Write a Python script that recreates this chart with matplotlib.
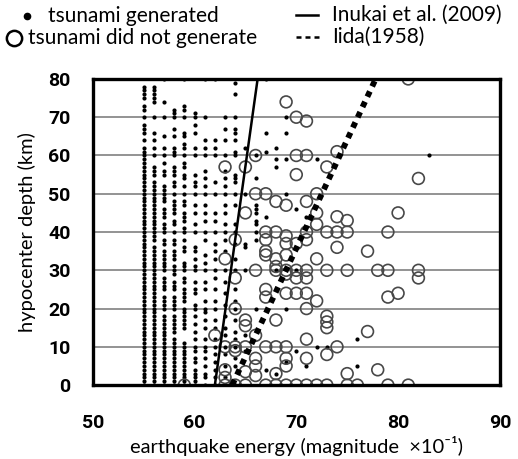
import numpy as np
import matplotlib
matplotlib.use('Agg')
import matplotlib.pyplot as plt
from matplotlib.lines import Line2D

# tsunami generated: depth (km) per magnitude column (magnitude x10)
gen_columns = {
    55: [0, 1, 2, 3, 4, 5, 6, 7, 8, 9, 10, 11, 12, 13, 14, 15, 16, 17, 18, 19, 20, 21, 22, 23, 24, 25,
         26, 27, 28, 29, 30, 31, 32, 33, 34, 35, 36, 37, 38, 39, 40, 41, 42, 43, 44, 45, 46, 47, 48, 49,
         50, 51, 52, 53, 54, 55, 56, 57, 58, 59, 60, 61, 62, 64, 66, 67, 68, 70, 72, 73, 75, 76, 77, 78],
    56: [0, 1, 2, 3, 4, 5, 6, 7, 8, 9, 10, 11, 12, 13, 14, 15, 16, 17, 18, 19, 20, 21, 22, 23, 24, 25,
         26, 27, 28, 29, 30, 31, 32, 33, 34, 35, 36, 38, 39, 40, 41, 42, 43, 44, 45, 46, 47, 48, 49, 50,
         51, 52, 53, 55, 56, 57, 60, 62, 64, 66, 70, 74, 75, 76, 77, 78],
    57: [0, 1, 2, 3, 4, 5, 6, 7, 8, 9, 10, 11, 12, 13, 14, 15, 16, 17, 18, 20, 21, 22, 23, 25, 26, 27,
         28, 30, 31, 32, 33, 34, 35, 37, 38, 40, 41, 42, 44, 45, 46, 48, 49, 50, 51, 52, 55, 56, 58, 60,
         62, 65, 70, 74, 80],
    58: [0, 1, 2, 3, 4, 5, 6, 7, 8, 9, 10, 11, 12, 14, 15, 16, 17, 18, 20, 21, 22, 23, 25, 26, 27, 29,
         30, 31, 33, 34, 35, 37, 38, 40, 42, 43, 45, 46, 47, 48, 50, 52, 53, 55, 56, 57, 60, 61, 62, 65,
         67, 70, 71, 72],
    59: [0, 1, 2, 3, 4, 5, 6, 7, 8, 9, 10, 11, 15, 16, 17, 18, 19, 20, 22, 23, 24, 25, 27, 28, 30, 31,
         32, 35, 36, 38, 40, 41, 43, 44, 45, 47, 48, 50, 52, 54, 55, 57, 58, 60, 62, 63, 65, 66, 70, 72,
         73, 80],
    60: [0, 1, 2, 3, 4, 6, 7, 9, 10, 12, 14, 16, 18, 20, 21, 24, 25, 27, 30, 31, 33, 35, 36, 40, 42, 45,
         47, 50, 52, 53, 55, 60, 62, 66, 68, 70, 71],
    61: [0, 2, 3, 5, 7, 9, 10, 12, 15, 17, 19, 20, 22, 25, 27, 30, 32, 34, 38, 40, 43, 45, 47, 50, 52,
         54, 56, 60, 62, 64, 70, 80],
    62: [0, 2, 4, 6, 8, 10, 12, 15, 17, 20, 22, 25, 28, 30, 33, 35, 37, 40, 43, 45, 50, 53, 60, 62, 64, 80],
    63: [0, 2, 5, 8, 10, 13, 15, 18, 21, 24, 27, 30, 35, 38, 40, 42, 45, 47, 50, 52, 54, 56, 60, 64, 67, 70],
    64: [0, 5, 7, 10, 12, 14, 17, 20, 22, 25, 30, 33, 37, 40, 42, 47, 50, 53, 54, 55, 60, 61, 64, 66, 67,
         70, 76, 79],
}

# scattered generated events right of the Inukai line
gen_mag = [65, 65, 65, 65, 65, 65, 65, 66, 66, 66, 66, 66, 66, 66, 66, 66, 66, 67, 67, 67, 67, 67,
           68, 68, 68, 68, 68, 69, 69, 69, 69, 69, 69, 70, 70, 70, 71, 71, 72, 72, 73, 76, 76, 83]
gen_depth = [62, 37, 36, 13, 9, 50, 30, 54, 47, 46, 45, 43, 42, 40, 38, 20, 60, 80, 66, 61, 44, 4,
             62, 59, 57, 3, 30, 70, 66, 59, 50, 20, 6, 46, 9, 30, 44, 5, 59, 10, 10, 12, 5, 60]

# tsunami did not generate
nogen_mag = [59, 62, 63, 63, 63, 63, 63, 63,
             64, 64, 64, 64, 64, 64,
             65, 65, 65, 65, 65, 65, 65,
             66, 66, 66, 66, 66, 66, 66,
             67, 67, 67, 67, 67, 67, 67, 67, 67,
             68, 68, 68, 68, 68, 68, 68, 68, 68,
             69, 69, 69, 69, 69, 69, 69, 69, 69, 69, 69, 69,
             70, 70, 70, 70, 70, 70, 70, 70,
             71, 71, 71, 71, 71, 71, 71, 71, 71, 71, 71, 71,
             72, 72, 72, 72, 72, 72,
             73, 73, 73, 73, 73, 73, 73, 73,
             74, 74, 74, 74, 74,
             75, 75, 75, 75, 75,
             76, 77, 77, 78, 78, 79, 79, 79, 79, 80, 80, 81, 81, 82, 82, 82]
nogen_depth = [0, 13, 57, 33, 10, 4, 2, 0,
               38, 28, 20, 10, 9, 0,
               57, 45, 17, 15.5, 10, 3.5, 0,
               60, 50, 30, 13, 7, 5, 2.5,
               50, 40, 38, 35, 34, 25, 23, 10, 0,
               48, 40, 33, 31, 30, 17, 10, 3, 0,
               74, 47, 39, 37, 34, 30, 29, 24, 10, 7, 5, 0,
               70, 60, 55, 37, 30, 28, 24, 0,
               69, 60, 48, 40, 38, 30, 28, 24, 20, 12, 7, 0,
               50, 45, 42, 33, 22, 0,
               57, 40, 30, 18, 16.5, 15, 8, 0,
               61, 44, 40, 36, 10,
               43, 40, 30, 3, 0,
               0, 35, 14, 30, 4, 40, 30, 23, 0, 45, 24, 80, 0, 54, 30, 28]

# boundary lines (magnitude x10 at depth 0 and 80 km)
inukai_mag = [62.0, 66.2]
iida_mag = [63.7, 77.8]
line_depth = [0, 80]

x_ticks = [50, 60, 70, 80, 90]
y_ticks = [0, 10, 20, 30, 40, 50, 60, 70, 80]

label_fam = ['Lato', 'DejaVu Sans']
tick_fam = ['Roboto', 'Liberation Sans', 'DejaVu Sans']

fig = plt.figure(figsize=(5.18, 4.59), dpi=100)
ax = fig.add_axes([0.179, 0.161, 0.786, 0.667])

for mag, depths in gen_columns.items():
    ax.scatter([mag] * len(depths), depths, s=9, color='black', linewidths=0, zorder=3)
ax.scatter(gen_mag, gen_depth, s=9, color='black', linewidths=0, zorder=3)
ax.scatter(nogen_mag, nogen_depth, s=72, facecolors='none', edgecolors='#484848',
           linewidths=1.2, zorder=4)

ax.plot(inukai_mag, line_depth, color='black', linewidth=1.8, zorder=5)
ax.plot(iida_mag, line_depth, color='black', linewidth=4.2, dashes=(1.0, 0.95),
        solid_capstyle='butt', dash_capstyle='butt', zorder=5)

ax.set_xlim(50, 90)
ax.set_ylim(0, 80)
ax.set_xticks(x_ticks)
ax.set_xticklabels([str(v) for v in x_ticks], fontsize=14, fontweight='bold', family=tick_fam)
ax.set_yticks(y_ticks)
ax.set_yticklabels([str(v) for v in y_ticks], fontsize=14, fontweight='bold', family=tick_fam)
ax.grid(True, axis='y', color='#808080', linewidth=1.2)
ax.set_axisbelow(True)
for sp in ax.spines.values():
    sp.set_linewidth(2.4)
    sp.set_zorder(6)
ax.tick_params(length=0)
ax.tick_params(axis='x', pad=21)
ax.tick_params(axis='y', pad=16)

ax.set_xlabel('earthquake energy (magnitude  \u00d710\u207b\u00b9)', fontsize=14.5,
              family=label_fam, labelpad=3)
ax.set_ylabel('hypocenter depth (km)', fontsize=14.5, family=label_fam, labelpad=9)

# legend drawn at the top of the figure
W, H = 518.0, 459.0
leg_font = dict(fontsize=15, family=label_fam, va='center')
fig.add_artist(Line2D([27 / W], [1 - 16 / H], marker='o', markersize=4.5, color='black',
                      linestyle='none', transform=fig.transFigure))
fig.text(48 / W, 1 - 16 / H, 'tsunami generated', **leg_font)
fig.add_artist(Line2D([14 / W], [1 - 38 / H], marker='o', markersize=11, markerfacecolor='none',
                      markeredgecolor='black', markeredgewidth=1.8, linestyle='none',
                      transform=fig.transFigure))
fig.text(28 / W, 1 - 38 / H, 'tsunami did not generate', **leg_font)
fig.add_artist(Line2D([296 / W, 318 / W], [1 - 15 / H, 1 - 15 / H], color='black', linewidth=1.8,
                      transform=fig.transFigure))
fig.text(332 / W, 1 - 15 / H, 'Inukai et al. (2009)', **leg_font)
fig.add_artist(Line2D([296 / W, 320 / W], [1 - 37 / H, 1 - 37 / H], color='black', linewidth=1.8,
                      dashes=(2.0, 1.6), transform=fig.transFigure))
fig.text(332 / W, 1 - 37 / H, 'Iida(1958)', **leg_font)

fig.savefig('out.png', dpi=100)
